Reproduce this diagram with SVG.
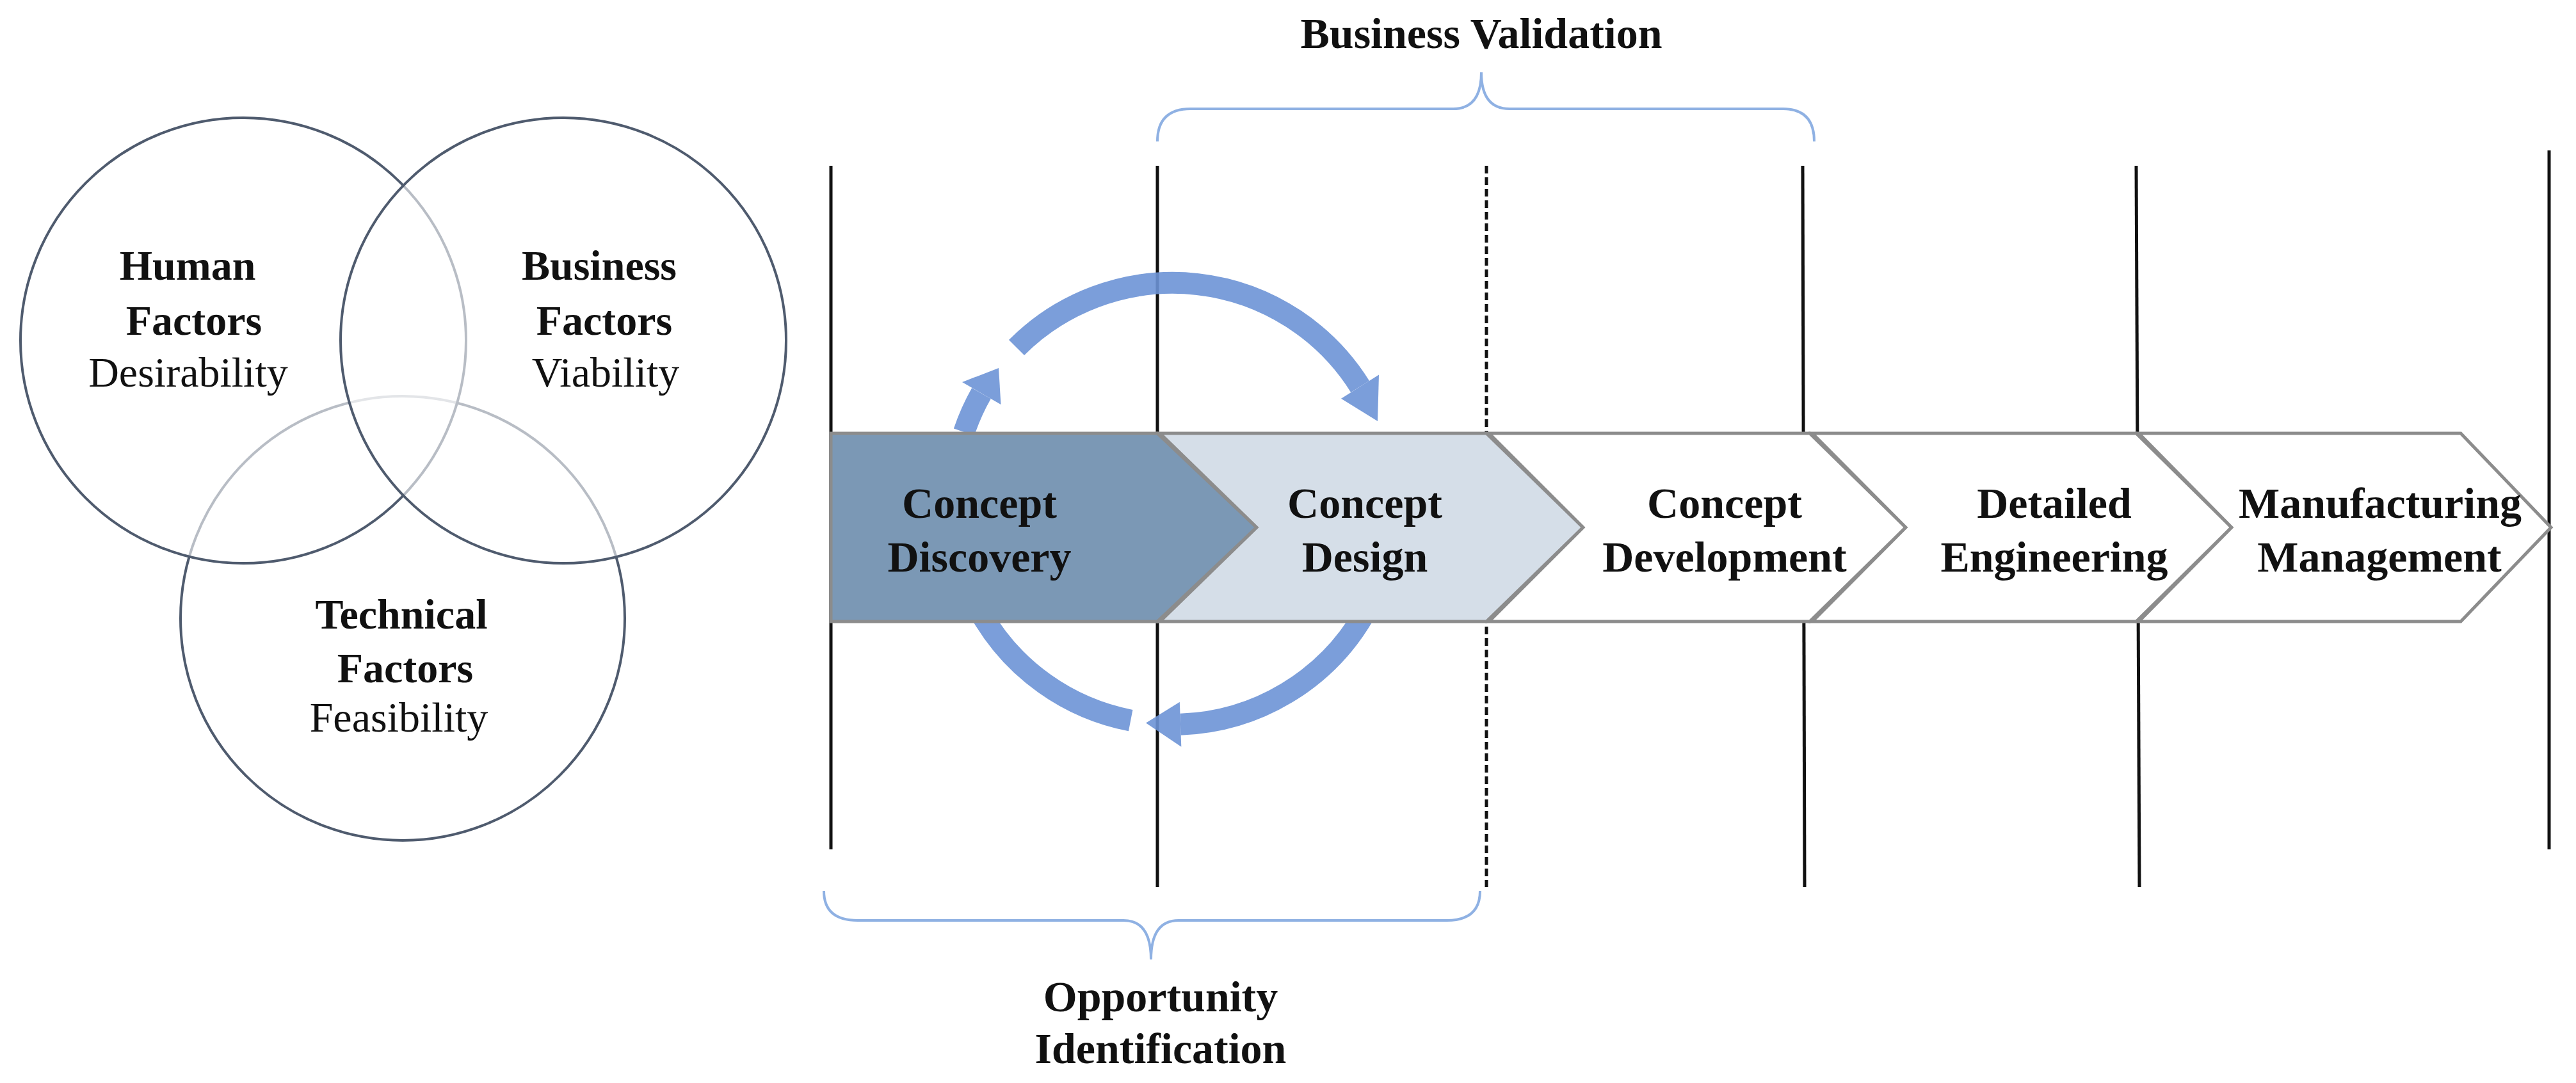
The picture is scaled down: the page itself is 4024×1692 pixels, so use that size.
<svg xmlns="http://www.w3.org/2000/svg" width="4024" height="1692" viewBox="0 0 4024 1692">
<style>
.t{font-family:"Liberation Serif",serif;font-size:66px;fill:#111;text-anchor:middle}
.b{font-weight:bold}
.c{font-family:"Liberation Serif",serif;font-size:68px;font-weight:bold;fill:#111;text-anchor:middle}
.venn{stroke:#4f5b6e;stroke-width:4;fill:#fff;fill-opacity:0.6}
.vl{stroke:#111;stroke-width:5;fill:none}
.br{stroke:#8fb1e3;stroke-width:4;fill:none}
.chev{stroke:#8c8c8c;stroke-width:5;stroke-linejoin:miter}
.arc{stroke:#6d94d6;stroke-opacity:0.9;stroke-width:34;fill:none}
.ah{fill:#6d94d6;fill-opacity:0.9}
</style>
<rect width="4024" height="1692" fill="#fff"/>
<g id="venn">
<circle class="venn" cx="629" cy="966" r="347"/>
<circle class="venn" cx="380" cy="532" r="348"/>
<circle class="venn" cx="880" cy="532" r="348"/>
</g>
<g id="human"><text class="t b" x="293" y="437">Human</text><text class="t b" x="303" y="523">Factors</text><text class="t" x="294" y="604">Desirability</text></g>
<g id="business"><text class="t b" x="936" y="437">Business</text><text class="t b" x="944" y="523">Factors</text><text class="t" x="946" y="604">Viability</text></g>
<g id="technical"><text class="t b" x="627" y="982">Technical</text><text class="t b" x="633" y="1066">Factors</text><text class="t" x="623" y="1143">Feasibility</text></g>
<g id="connectors">
<line class="vl" x1="1298" y1="259" x2="1298" y2="1327"/>
<line class="vl" x1="1808" y1="259" x2="1808" y2="1386"/>
<line class="vl" x1="2322" y1="259" x2="2322" y2="1386" stroke-dasharray="12,6" stroke-width="4"/>
<line class="vl" x1="2816" y1="259" x2="2819" y2="1386"/>
<line class="vl" x1="3337" y1="259" x2="3342" y2="1386"/>
<line class="vl" x1="3982" y1="235" x2="3982" y2="1327"/>
<path class="br" d="M1808,221 Q1808,170 1860,170 L2270,170 Q2314,170 2314,113 Q2314,170 2358,170 L2785,170 Q2834,170 2834,221"/>
<path class="br" d="M1287,1392 Q1287,1438 1340,1438 L1755,1438 Q1798,1438 1798,1499 Q1798,1438 1841,1438 L2260,1438 Q2312,1438 2312,1392"/>
</g>
<g id="cycle">
<path class="arc" d="M1506,675 A345,345 0 0 1 1533,614.5"/>
<polygon class="ah" points="1563.5,632 1503,597 1560,575"/>
<path class="arc" d="M1588,543 A345,345 0 0 1 2124.6,604"/>
<polygon class="ah" points="2095,622.7 2154,585.6 2152,658"/>
<path class="arc" d="M2131,959.5 A345,345 0 0 1 1844,1131.8"/>
<polygon class="ah" points="1842.8,1096.8 1845.3,1166.8 1790,1129.4"/>
<path class="arc" d="M1766.2,1125.6 A345,345 0 0 1 1533,959.5"/>
</g>
<g id="discovery"><polygon class="chev" fill="#7b98b5" points="1298,677 1808,677 1963,824 1808,971 1298,971"/><text class="c" x="1530" y="809">Concept</text><text class="c" x="1530" y="893">Discovery</text></g>
<g id="design"><polygon class="chev" fill="#d5dee8" points="1812,677 2322,677 2473,824 2322,971 1812,971 1963,824"/><text class="c" x="2132" y="809">Concept</text><text class="c" x="2132" y="893">Design</text></g>
<g id="development"><polygon class="chev" fill="#fff" points="2326,677 2827,677 2977,824 2827,971 2326,971 2473,824"/><text class="c" x="2694" y="809">Concept</text><text class="c" x="2694" y="893">Development</text></g>
<g id="detailed"><polygon class="chev" fill="#fff" points="2831,677 3337,677 3486,824 3337,971 2831,971 2977,824"/><text class="c" x="3209" y="809">Detailed</text><text class="c" x="3209" y="893">Engineering</text></g>
<g id="manufacturing"><polygon class="chev" fill="#fff" stroke-width="4" points="3341,677 3844,677 3985,824 3844,971 3341,971 3486,824"/><text class="c" x="3718" y="809">Manufacturing</text><text class="c" x="3717" y="893">Management</text></g>
<text class="c" x="2314" y="75">Business Validation</text>
<text class="c" x="1813" y="1580">Opportunity</text>
<text class="c" x="1813" y="1661">Identification</text>
</svg>
